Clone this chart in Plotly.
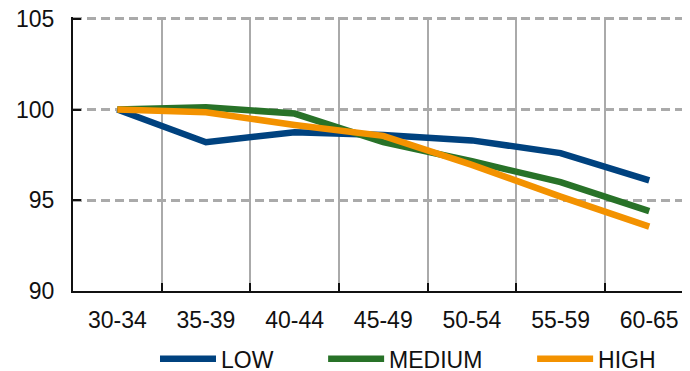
import plotly.graph_objects as go

categories = ["30-34", "35-39", "40-44", "45-49", "50-54", "55-59", "60-65"]
low = [100, 98.2, 98.75, 98.6, 98.3, 97.6, 96.1]
medium = [100, 100.13, 99.78, 98.2, 97.15, 96.0, 94.4]
high = [100, 99.85, 99.15, 98.55, 96.95, 95.2, 93.55]
y_ticks = [90, 95, 100, 105]

NB = "\u00a0"
series = [("LOW" + NB * 7, low, "#00427F"),
          ("MEDIUM" + NB * 7, medium, "#287228"),
          ("HIGH", high, "#F39200")]

fig = go.Figure()
for name, vals, col in series:
    fig.add_trace(go.Scatter(x=categories, y=vals, name=name, mode="lines",
                             line=dict(color=col, width=6.5)))

font = dict(family="Liberation Sans, Arial, sans-serif", size=23, color="#111111")
fig.update_layout(
    width=690, height=371,
    margin=dict(l=65, r=8, t=9.2, b=88, autoexpand=False),
    paper_bgcolor="white", plot_bgcolor="white",
    font=font,
    showlegend=True,
    legend=dict(orientation="h", x=0.1329, xanchor="left", y=-0.169, yanchor="top",
                font=font, itemwidth=56, traceorder="normal"),
    xaxis=dict(type="category", range=[-0.5, 6.46], tickson="boundaries",
               showgrid=True, gridcolor="#AAAAAA", gridwidth=2,
               showline=True, linecolor="#111111", linewidth=2,
               ticks="inside", ticklen=8, tickcolor="#111111", tickwidth=2,
               ticklabelstandoff=7, zeroline=False, automargin=False,
               ticklabeloverflow="allow"),
    yaxis=dict(range=[90, 105.1], tickvals=y_ticks,
               showgrid=True, gridcolor="#AAAAAA", gridwidth=2.5, griddash="9px,5px",
               showline=True, linecolor="#111111", linewidth=2,
               ticks="inside", ticklen=8, tickcolor="#111111", tickwidth=2,
               ticklabelstandoff=12, zeroline=False, automargin=False,
               ticklabeloverflow="allow"),
)
fig.write_html("out.html")
